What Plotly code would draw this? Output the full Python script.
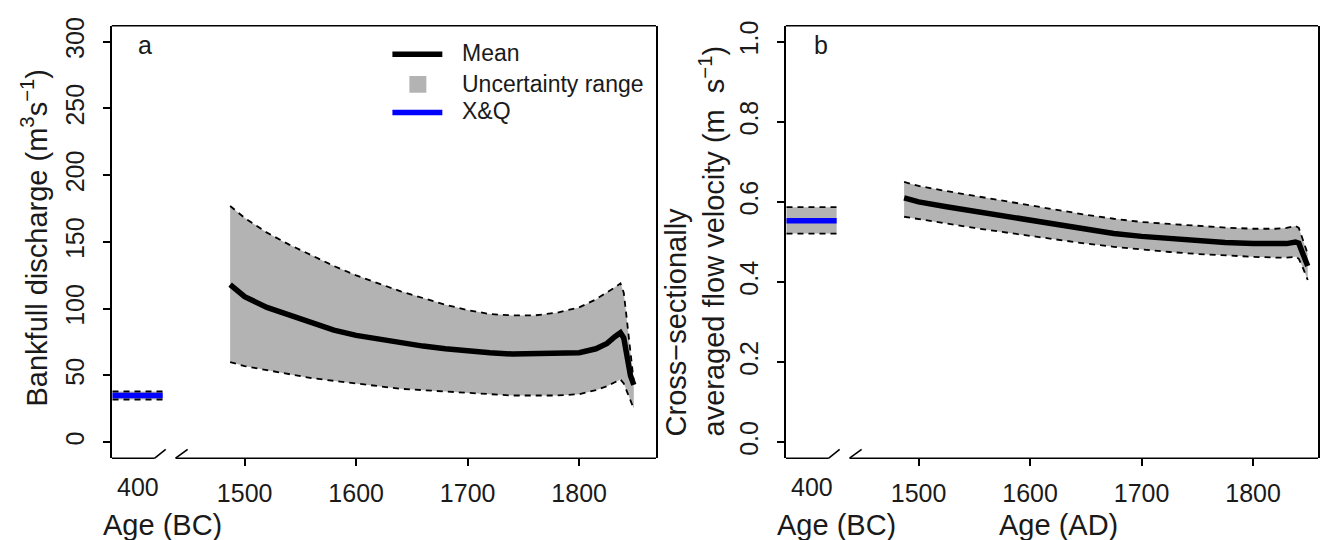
import plotly.graph_objects as go

# ---------------- data ----------------
# Panel a: bankfull discharge (m3/s), AD ages
q_years = [1487, 1500, 1520, 1540, 1560, 1580, 1600, 1620, 1640, 1660, 1680, 1700,
           1720, 1740, 1760, 1780, 1800, 1815, 1825, 1832, 1837, 1840, 1843, 1846, 1849]
q_mean = [118, 109, 101, 95, 89, 84, 80, 77, 74, 72, 70, 68,
          67, 66, 66, 66, 67, 70, 74, 79, 82, 78, 62, 50, 43]
q_upper = [177, 168, 157, 148, 140, 132, 125, 119, 113, 108, 103, 99,
           96, 95, 95, 97, 101, 107, 112, 116, 119, 112, 90, 65, 45]
q_lower = [60, 57, 54, 51, 48, 46, 44, 42, 40, 39, 38, 37,
           36, 35, 35, 35, 36, 39, 42, 45, 47, 44, 38, 31, 25]

# Panel b: cross-sectionally averaged flow velocity (m/s)
v_years = [1487, 1500, 1525, 1550, 1575, 1600, 1625, 1650, 1675, 1700, 1725, 1750,
           1775, 1800, 1820, 1830, 1838, 1841, 1844, 1847, 1849]
v_mean = [0.610, 0.600, 0.588, 0.577, 0.565, 0.553, 0.541, 0.530, 0.521, 0.514, 0.508, 0.503,
          0.499, 0.496, 0.495, 0.496, 0.500, 0.497, 0.475, 0.452, 0.440]
v_upper = [0.650, 0.640, 0.627, 0.615, 0.603, 0.592, 0.580, 0.568, 0.558, 0.550, 0.545, 0.540,
           0.536, 0.533, 0.533, 0.535, 0.540, 0.535, 0.510, 0.485, 0.470]
v_lower = [0.563, 0.557, 0.546, 0.535, 0.525, 0.515, 0.505, 0.496, 0.488, 0.481, 0.475, 0.470,
           0.466, 0.463, 0.461, 0.461, 0.463, 0.458, 0.440, 0.420, 0.405]

# X&Q estimate at 400 BC
xq_q, xq_q_lo, xq_q_hi = 35, 32, 38
xq_v, xq_v_lo, xq_v_hi = 0.553, 0.521, 0.587

# Axis ticks
ad_ticks = [1500, 1600, 1700, 1800]
ad_labels = ["1500", "1600", "1700", "1800"]
bc_label = "400"
q_ticks = [0, 50, 100, 150, 200, 250, 300]
v_ticks = [0.0, 0.2, 0.4, 0.6, 0.8, 1.0]
v_tick_labels = ["0.0", "0.2", "0.4", "0.6", "0.8", "1.0"]

# Broken-axis geometry (plot coordinate used for the 400 BC section)
BC_POS = 1404
BC_HALF = 22.5
X0 = 1380.9
XA1 = 1868.9
XB1 = 1858.2

FONT = "Liberation Sans, Arial, sans-serif"
GREY = "#b3b3b3"
TXT = "#1a1a1a"

fig = go.Figure()


def add_panel(xs, ys_mean, ys_up, ys_lo, xq, xq_lo, xq_hi, xref, yref):
    fig.add_trace(go.Scatter(x=xs + xs[::-1], y=ys_up + ys_lo[::-1], fill="toself",
                             fillcolor=GREY, line=dict(width=0), mode="lines",
                             hoverinfo="skip", showlegend=False, xaxis=xref, yaxis=yref))
    for ys in (ys_up, ys_lo):
        fig.add_trace(go.Scatter(x=xs, y=ys, mode="lines",
                                 line=dict(color="black", width=1.8, dash="6px,5px"),
                                 showlegend=False, xaxis=xref, yaxis=yref))
    fig.add_trace(go.Scatter(x=xs, y=ys_mean, mode="lines",
                             line=dict(color="black", width=5.5),
                             showlegend=False, xaxis=xref, yaxis=yref))
    bx = [BC_POS - BC_HALF, BC_POS + BC_HALF]
    fig.add_trace(go.Scatter(x=bx + bx[::-1], y=[xq_lo, xq_lo, xq_hi, xq_hi], fill="toself",
                             fillcolor=GREY, line=dict(width=0), mode="lines",
                             hoverinfo="skip", showlegend=False, xaxis=xref, yaxis=yref))
    for yy in (xq_lo, xq_hi):
        fig.add_trace(go.Scatter(x=bx, y=[yy, yy], mode="lines",
                                 line=dict(color="black", width=1.8, dash="6px,5px"),
                                 showlegend=False, xaxis=xref, yaxis=yref))
    fig.add_trace(go.Scatter(x=bx, y=[xq, xq], mode="lines",
                             line=dict(color="#0000ff", width=5.5),
                             showlegend=False, xaxis=xref, yaxis=yref))


add_panel(q_years, q_mean, q_upper, q_lower, xq_q, xq_q_lo, xq_q_hi, "x", "y")
add_panel(v_years, v_mean, v_upper, v_lower, xq_v, xq_v_lo, xq_v_hi, "x2", "y2")

W, H = 1320, 540
dom_a = [112 / W, 657 / W]
dom_b = [787 / W, 1.0]
dom_y = [83 / H, 522 / H]

tickfont = dict(family=FONT, size=25, color=TXT)


def xaxis(dom, rng, anchor):
    return dict(domain=dom, range=rng, anchor=anchor, tickvals=ad_ticks, ticktext=ad_labels,
                ticks="outside", ticklen=7, tickwidth=1.5, tickcolor="black",
                showline=False, showgrid=False, zeroline=False, tickfont=tickfont,
                ticklabelstandoff=6, fixedrange=True)


def yaxis(anchor, rng, tv, tt):
    return dict(domain=dom_y, anchor=anchor, range=rng, tickvals=tv, ticktext=tt,
                ticks="outside", ticklen=7, tickwidth=1.5, tickcolor="black",
                tickangle=-90, showline=True, linecolor="black", linewidth=1.6,
                mirror=True, showgrid=False, zeroline=False, tickfont=tickfont,
                ticklabelstandoff=9, fixedrange=True)


fig.update_layout(
    width=W, height=H, margin=dict(l=0, r=0, t=0, b=0),
    plot_bgcolor="white", paper_bgcolor="white", showlegend=False,
    xaxis=xaxis(dom_a, [X0, XA1], "y"),
    xaxis2=xaxis(dom_b, [X0, XB1], "y2"),
    yaxis=yaxis("x", [-12, 312], q_ticks, [str(t) for t in q_ticks]),
    yaxis2=yaxis("x2", [-0.04, 1.04], v_ticks, v_tick_labels),
)

shapes = []
rise = 9 / 439
lw = 1.6
for xr, yr, xend in (("x", "y", XA1), ("x2", "y2", XB1)):
    dref = yr + " domain"
    shapes.append(dict(type="line", xref=xr + " domain", yref=dref, x0=0, x1=1, y0=1, y1=1,
                       line=dict(color="black", width=lw)))
    segs = [(X0, 0, 1419.4, 0), (1419.4, 0, 1429.2, rise),
            (1438.1, 0, 1448.9, rise), (1438.1, 0, xend, 0)]
    for a, b, c, d in segs:
        shapes.append(dict(type="line", xref=xr, yref=dref, x0=a, y0=b, x1=c, y1=d,
                           line=dict(color="black", width=lw)))

# legend (panel a)
shapes.append(dict(type="line", xref="paper", yref="paper", x0=393 / W, x1=443 / W,
                   y0=1 - 47 / H, y1=1 - 47 / H, line=dict(color="black", width=5.5)))
shapes.append(dict(type="rect", xref="paper", yref="paper", x0=410 / W, x1=427 / W,
                   y0=1 - 86 / H, y1=1 - 69 / H, fillcolor=GREY, line=dict(width=0)))
shapes.append(dict(type="line", xref="paper", yref="paper", x0=393 / W, x1=443 / W,
                   y0=1 - 106 / H, y1=1 - 106 / H, line=dict(color="#0000ff", width=5.5)))
fig.update_layout(shapes=shapes)

ann = []
legfont = dict(family=FONT, size=23, color=TXT)
for txt, yy in (("Mean", 46), ("Uncertainty range", 77), ("X&Q", 105)):
    ann.append(dict(text=txt, x=461 / W, y=1 - yy / H, xref="paper", yref="paper",
                    xanchor="left", yanchor="middle", showarrow=False, font=legfont))
for txt, xx in (("a", 145), ("b", 822)):
    ann.append(dict(text=txt, x=xx / W, y=1 - 38 / H, xref="paper", yref="paper",
                    xanchor="center", yanchor="middle", showarrow=False,
                    font=dict(family=FONT, size=25, color=TXT)))
# 400 BC label on the broken part of each x axis
for xr in ("x", "x2"):
    ann.append(dict(text=bc_label, x=BC_POS, y=1 - 486 / H, xref=xr, yref="paper",
                    xanchor="center", yanchor="middle", showarrow=False, font=tickfont))
titlefont = dict(family=FONT, size=29, color=TXT)
ann.append(dict(text="Bankfull discharge (m<sup>3</sup>s<sup>\u22121</sup>)",
                x=34 / W, y=1 - 233 / H, xref="paper", yref="paper", textangle=-90,
                xanchor="center", yanchor="middle", showarrow=False, font=titlefont))
ann.append(dict(text="Cross\u2212sectionally<br>averaged flow velocity (m  s<sup>\u22121</sup>)",
                x=696 / W, y=1 - 236 / H, xref="paper", yref="paper", textangle=-90,
                align="left", xanchor="center", yanchor="middle", showarrow=False,
                font=titlefont))
for txt, xx in (("Age (BC)", 163), ("Age (BC)", 838), ("Age (AD)", 1060)):
    ann.append(dict(text=txt, x=xx / W, y=1 - 525 / H, xref="paper", yref="paper",
                    xanchor="center", yanchor="middle", showarrow=False, font=titlefont))
fig.update_layout(annotations=ann)

fig.write_html("out.html", config={"displayModeBar": False},
               post_script="document.body.style.margin='0px';document.body.style.overflow='hidden';")
